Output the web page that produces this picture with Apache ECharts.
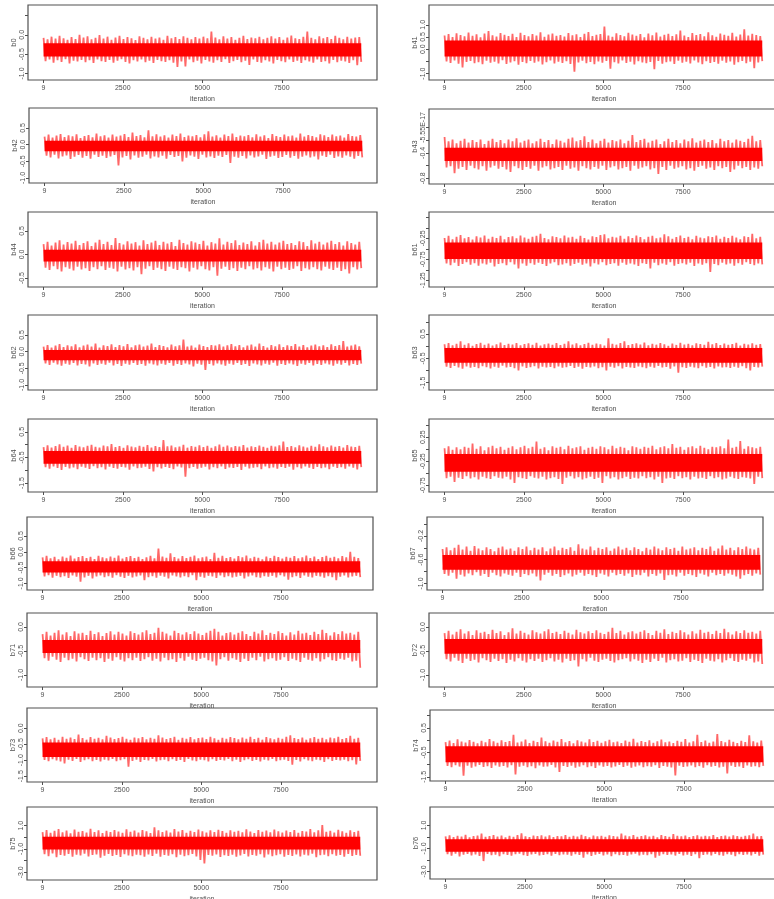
<!DOCTYPE html>
<html>
<head>
<meta charset="utf-8">
<script src="https://cdn.jsdelivr.net/npm/echarts@6/dist/echarts.min.js"></script>
<style>
  html, body { margin: 0; padding: 0; background: #ffffff; }
  #chart { width: 774px; height: 899px; }
</style>
</head>
<body>
<div id="chart"></div>
<script>
// MCMC trace plots: each panel shows the sampled chain of one coefficient.
// Each chain is summarised by the highest and lowest draw inside successive
// blocks of iterations (upper / lower), plus the dense central band (core).

const firstIteration = 9;
const lastIteration = 10000;
const xTickValues = [9, 2500, 5000, 7500];

// panel order: row by row, left column then right column
const panelNames = ['b0','b41','b42','b43','b44','b61','b62','b63','b64','b65','b66','b67','b71','b72','b73','b74','b75','b76'];

const yLimits = [
  [-1.17, 0.77], [-1.26, 1.81],
  [-1.15, 1.10], [-0.89, 0.29],
  [-0.69, 0.90], [-1.41, 0.38],
  [-1.15, 1.10], [-1.80, 1.28],
  [-1.85, 1.00], [-0.89, 0.63],
  [-1.21, 1.10], [-1.11, 0.12],
  [-1.25, 0.29], [-1.25, 0.29],
  [-1.68, 0.63], [-1.67, 1.23],
  [-3.66, 2.60], [-3.66, 2.60]
];

const yTicks = [
  [-1, -0.5, 0, 0.5], [-1, -0.5, 0, 0.5, 1],
  [-1, -0.5, 0, 0.5], [-0.8, -0.6, -0.4, -0.2, 0],
  [-0.5, 0, 0.5], [-1.25, -1, -0.75, -0.5, -0.25, 0, 0.25],
  [-1, -0.5, 0, 0.5], [-1.5, -1, -0.5, 0, 0.5, 1],
  [-1.5, -1, -0.5, 0, 0.5], [-0.75, -0.5, -0.25, 0, 0.25, 0.5],
  [-1, -0.5, 0, 0.5], [-1, -0.8, -0.6, -0.4, -0.2, 0],
  [-1, -0.5, 0], [-1, -0.5, 0],
  [-1.5, -1, -0.5, 0], [-1.5, -1, -0.5, 0, 0.5, 1],
  [-3, -2, -1, 0, 1], [-3, -2, -1, 0, 1]
];

const yTickLabels = [
  [-1, -0.5, 0], [-1, 0, 0.5, 1],
  [-1, -0.5, 0, 0.5], [-0.8, -0.4, 0],
  [-0.5, 0, 0.5], [-1.25, -0.75, -0.25],
  [-1, -0.5, 0, 0.5], [-1.5, -0.5, 0.5],
  [-1.5, -0.5, 0.5], [-0.75, -0.25, 0.25],
  [-1, -0.5, 0, 0.5], [-1, -0.6, -0.2],
  [-1, -0.5, 0], [-1, -0.5, 0],
  [-1.5, -1, -0.5, 0], [-1.5, -0.5, 0.5],
  [-3, -1, 1], [-3, -1, 1]
];

const labelDecimals = [1,1,1,1,1,2,1,1,1,2,1,1,1,1,1,1,1,1];
const zeroLabelText = { b43: '-5.55E-17' };

// central band that the chain fills solidly
const coreBands = [
  [-0.56, -0.22], [-0.30, 0.36],
  [-0.20, 0.12], [-0.53, -0.32],
  [-0.15, 0.10], [-0.74, -0.35],
  [-0.26, 0.05], [-0.68, -0.08],
  [-0.75, -0.25], [-0.47, -0.10],
  [-0.66, -0.30], [-0.77, -0.52],
  [-0.54, -0.27], [-0.56, -0.25],
  [-0.90, -0.45], [-0.90, -0.25],
  [-1.05, 0.05], [-1.28, -0.20]
];

// block maxima / minima of each chain (80 blocks of iterations)
const b0Upper = [-0.08,-0.12,-0.05,-0.10,-0.03,-0.09,-0.13,-0.06,-0.11,0.00,-0.07,-0.04,-0.12,-0.08,-0.01,-0.10,-0.05,-0.13,-0.07,-0.03,-0.11,-0.06,-0.09,-0.14,-0.04,-0.08,-0.12,-0.05,-0.10,-0.07,-0.13,-0.03,-0.09,-0.06,-0.11,-0.04,-0.08,-0.12,-0.06,-0.10,-0.05,-0.09,0.08,-0.07,-0.12,-0.04,-0.10,-0.06,-0.13,-0.08,-0.03,-0.11,-0.07,-0.09,-0.05,-0.12,-0.08,-0.04,-0.10,-0.06,-0.13,-0.07,-0.02,-0.09,-0.11,-0.05,0.08,-0.08,-0.12,-0.04,-0.09,-0.06,-0.11,-0.03,-0.08,-0.12,-0.05,-0.10,-0.07,-0.06];
const b0Lower = [-0.68,-0.64,-0.72,-0.66,-0.70,-0.63,-0.74,-0.67,-0.69,-0.65,-0.71,-0.66,-0.73,-0.64,-0.68,-0.70,-0.65,-0.72,-0.67,-0.63,-0.70,-0.74,-0.66,-0.69,-0.64,-0.71,-0.67,-0.73,-0.65,-0.68,-0.70,-0.66,-0.72,-0.83,-0.69,-0.82,-0.64,-0.71,-0.67,-0.74,-0.65,-0.69,-0.72,-0.66,-0.70,-0.63,-0.73,-0.68,-0.65,-0.71,-0.67,-0.78,-0.64,-0.70,-0.72,-0.66,-0.69,-0.74,-0.65,-0.68,-0.71,-0.64,-0.70,-0.67,-0.73,-0.66,-0.69,-0.72,-0.64,-0.70,-0.68,-0.74,-0.65,-0.71,-0.67,-0.69,-0.73,-0.66,-0.79,-0.70];

const b41Upper = [0.56,0.62,0.50,0.65,0.58,0.53,0.68,0.55,0.61,0.49,0.64,0.74,0.57,0.52,0.66,0.59,0.54,0.63,0.50,0.67,0.58,0.53,0.62,0.56,0.69,0.51,0.60,0.64,0.55,0.58,0.52,0.66,0.57,0.61,0.50,0.63,0.70,0.54,0.59,0.62,0.93,0.56,0.51,0.65,0.58,0.53,0.67,0.60,0.55,0.62,0.49,0.64,0.57,0.68,0.52,0.59,0.63,0.54,0.61,0.76,0.56,0.50,0.66,0.58,0.62,0.53,0.69,0.57,0.51,0.64,0.59,0.55,0.67,0.52,0.60,0.82,0.56,0.63,0.58,0.54];
const b41Lower = [-0.50,-0.56,-0.46,-0.59,-0.75,-0.52,-0.48,-0.57,-0.53,-0.61,-0.47,-0.55,-0.51,-0.58,-0.45,-0.60,-0.54,-0.49,-0.63,-0.52,-0.57,-0.48,-0.55,-0.50,-0.62,-0.53,-0.46,-0.58,-0.51,-0.56,-0.49,-0.60,-0.92,-0.54,-0.47,-0.57,-0.52,-0.61,-0.50,-0.55,-0.48,-0.80,-0.53,-0.58,-0.46,-0.56,-0.51,-0.62,-0.49,-0.54,-0.57,-0.52,-0.82,-0.48,-0.59,-0.53,-0.50,-0.60,-0.47,-0.55,-0.51,-0.58,-0.46,-0.54,-0.61,-0.49,-0.56,-0.52,-0.59,-0.47,-0.55,-0.50,-0.63,-0.53,-0.48,-0.57,-0.51,-0.78,-0.54,-0.49];

const b42Upper = [0.24,0.30,0.21,0.27,0.32,0.23,0.28,0.25,0.31,0.20,0.26,0.29,0.22,0.33,0.25,0.28,0.21,0.30,0.24,0.27,0.32,0.23,0.36,0.26,0.29,0.22,0.43,0.25,0.31,0.24,0.28,0.21,0.30,0.26,0.33,0.23,0.27,0.25,0.29,0.22,0.31,0.40,0.24,0.28,0.21,0.30,0.26,0.33,0.23,0.27,0.25,0.29,0.22,0.31,0.24,0.28,0.20,0.32,0.26,0.23,0.30,0.25,0.27,0.21,0.33,0.24,0.29,0.26,0.22,0.31,0.28,0.23,0.30,0.25,0.27,0.21,0.32,0.26,0.24,0.29];
const b42Lower = [-0.33,-0.38,-0.30,-0.41,-0.35,-0.32,-0.43,-0.36,-0.31,-0.39,-0.34,-0.42,-0.30,-0.37,-0.33,-0.40,-0.35,-0.31,-0.62,-0.38,-0.34,-0.44,-0.32,-0.39,-0.36,-0.30,-0.41,-0.35,-0.38,-0.33,-0.42,-0.31,-0.37,-0.34,-0.50,-0.39,-0.32,-0.36,-0.43,-0.30,-0.38,-0.35,-0.40,-0.33,-0.37,-0.31,-0.55,-0.36,-0.39,-0.34,-0.41,-0.32,-0.38,-0.35,-0.30,-0.43,-0.36,-0.33,-0.40,-0.37,-0.31,-0.39,-0.34,-0.42,-0.36,-0.32,-0.38,-0.35,-0.44,-0.33,-0.37,-0.30,-0.40,-0.35,-0.39,-0.32,-0.36,-0.42,-0.34,-0.38];

const b43Upper = [-0.15,-0.22,-0.19,-0.25,-0.21,-0.18,-0.24,-0.20,-0.23,-0.19,-0.26,-0.21,-0.18,-0.23,-0.20,-0.25,-0.19,-0.22,-0.17,-0.24,-0.21,-0.19,-0.25,-0.22,-0.18,-0.23,-0.20,-0.26,-0.19,-0.21,-0.24,-0.18,-0.16,-0.22,-0.20,-0.14,-0.23,-0.19,-0.25,-0.21,-0.18,-0.24,-0.20,-0.22,-0.19,-0.25,-0.21,-0.12,-0.23,-0.20,-0.18,-0.24,-0.21,-0.19,-0.26,-0.22,-0.18,-0.23,-0.20,-0.25,-0.19,-0.22,-0.17,-0.24,-0.21,-0.19,-0.23,-0.20,-0.25,-0.18,-0.22,-0.20,-0.24,-0.19,-0.21,-0.23,-0.18,-0.13,-0.22,-0.20];
const b43Lower = [-0.63,-0.61,-0.72,-0.65,-0.62,-0.67,-0.60,-0.64,-0.66,-0.61,-0.68,-0.63,-0.60,-0.65,-0.62,-0.66,-0.70,-0.61,-0.64,-0.67,-0.62,-0.65,-0.60,-0.68,-0.63,-0.61,-0.66,-0.64,-0.62,-0.67,-0.60,-0.65,-0.63,-0.68,-0.61,-0.64,-0.66,-0.62,-0.65,-0.60,-0.67,-0.63,-0.61,-0.66,-0.64,-0.62,-0.68,-0.60,-0.65,-0.63,-0.61,-0.66,-0.64,-0.73,-0.62,-0.67,-0.60,-0.65,-0.63,-0.61,-0.66,-0.64,-0.68,-0.62,-0.60,-0.65,-0.63,-0.67,-0.61,-0.64,-0.62,-0.70,-0.66,-0.60,-0.64,-0.62,-0.67,-0.63,-0.65,-0.61];

const b44Upper = [0.22,0.27,0.19,0.25,0.30,0.21,0.26,0.23,0.29,0.20,0.24,0.28,0.18,0.25,0.31,0.22,0.27,0.20,0.35,0.24,0.21,0.28,0.23,0.26,0.19,0.30,0.22,0.25,0.29,0.20,0.27,0.23,0.26,0.18,0.31,0.24,0.21,0.28,0.25,0.22,0.29,0.19,0.26,0.23,0.34,0.21,0.27,0.24,0.30,0.20,0.25,0.22,0.28,0.19,0.26,0.31,0.23,0.27,0.21,0.25,0.29,0.22,0.24,0.20,0.28,0.26,0.18,0.30,0.23,0.27,0.21,0.25,0.29,0.22,0.26,0.19,0.28,0.24,0.21,0.27];
const b44Lower = [-0.28,-0.33,-0.25,-0.31,-0.36,-0.27,-0.30,-0.34,-0.26,-0.32,-0.29,-0.35,-0.27,-0.31,-0.25,-0.33,-0.28,-0.30,-0.36,-0.26,-0.32,-0.29,-0.34,-0.27,-0.42,-0.30,-0.25,-0.33,-0.28,-0.31,-0.35,-0.26,-0.30,-0.33,-0.27,-0.29,-0.36,-0.28,-0.32,-0.25,-0.31,-0.34,-0.27,-0.45,-0.30,-0.26,-0.33,-0.29,-0.35,-0.28,-0.31,-0.25,-0.32,-0.29,-0.34,-0.27,-0.30,-0.36,-0.26,-0.31,-0.28,-0.33,-0.30,-0.25,-0.35,-0.29,-0.32,-0.27,-0.31,-0.34,-0.26,-0.30,-0.33,-0.28,-0.35,-0.31,-0.40,-0.27,-0.32,-0.29];

const b61Upper = [-0.24,-0.19,-0.27,-0.21,-0.17,-0.25,-0.22,-0.28,-0.20,-0.23,-0.18,-0.26,-0.21,-0.24,-0.19,-0.27,-0.22,-0.20,-0.25,-0.18,-0.23,-0.26,-0.21,-0.19,-0.14,-0.24,-0.27,-0.20,-0.22,-0.25,-0.18,-0.23,-0.21,-0.26,-0.19,-0.24,-0.28,-0.20,-0.22,-0.17,-0.15,-0.25,-0.21,-0.23,-0.19,-0.26,-0.20,-0.24,-0.18,-0.22,-0.27,-0.21,-0.19,-0.25,-0.23,-0.15,-0.20,-0.26,-0.22,-0.18,-0.24,-0.21,-0.27,-0.19,-0.23,-0.25,-0.20,-0.22,-0.18,-0.26,-0.21,-0.24,-0.19,-0.23,-0.27,-0.20,-0.22,-0.14,-0.25,-0.21];
const b61Lower = [-0.85,-0.89,-0.83,-0.91,-0.86,-0.82,-0.88,-0.84,-0.90,-0.85,-0.87,-0.83,-0.92,-0.86,-0.84,-0.89,-0.82,-0.87,-0.97,-0.85,-0.90,-0.84,-0.88,-0.83,-0.86,-0.91,-0.85,-0.82,-0.89,-0.87,-0.84,-0.90,-0.86,-0.83,-0.88,-0.85,-0.92,-0.84,-0.87,-0.82,-0.89,-0.86,-0.84,-0.90,-0.83,-0.88,-0.85,-0.87,-0.91,-0.84,-0.86,-0.97,-0.83,-0.89,-0.85,-0.88,-0.82,-0.90,-0.86,-0.84,-0.87,-0.83,-0.91,-0.85,-0.88,-0.84,-1.05,-0.86,-0.89,-0.83,-0.87,-0.85,-0.90,-0.84,-0.88,-0.82,-0.86,-0.89,-0.85,-0.87];

const b62Upper = [0.15,0.20,0.12,0.18,0.23,0.14,0.19,0.16,0.22,0.13,0.18,0.21,0.15,0.24,0.12,0.19,0.17,0.22,0.14,0.20,0.16,0.23,0.13,0.19,0.21,0.15,0.18,0.24,0.14,0.20,0.17,0.13,0.21,0.16,0.19,0.36,0.15,0.18,0.12,0.21,0.17,0.14,0.20,0.18,0.22,0.15,0.19,0.23,0.16,0.20,0.13,0.18,0.21,0.15,0.24,0.17,0.12,0.20,0.16,0.22,0.14,0.19,0.17,0.23,0.15,0.20,0.13,0.18,0.21,0.16,0.19,0.14,0.22,0.17,0.20,0.32,0.15,0.18,0.21,0.16];
const b62Lower = [-0.35,-0.40,-0.33,-0.38,-0.42,-0.36,-0.39,-0.34,-0.41,-0.37,-0.38,-0.44,-0.35,-0.40,-0.36,-0.39,-0.33,-0.41,-0.37,-0.43,-0.36,-0.39,-0.34,-0.40,-0.37,-0.42,-0.35,-0.38,-0.41,-0.36,-0.39,-0.34,-0.42,-0.37,-0.40,-0.35,-0.38,-0.44,-0.36,-0.39,-0.55,-0.37,-0.41,-0.35,-0.38,-0.42,-0.36,-0.39,-0.34,-0.40,-0.37,-0.43,-0.35,-0.38,-0.41,-0.36,-0.39,-0.33,-0.42,-0.37,-0.40,-0.35,-0.38,-0.43,-0.36,-0.39,-0.34,-0.41,-0.37,-0.40,-0.35,-0.38,-0.42,-0.36,-0.39,-0.34,-0.41,-0.37,-0.40,-0.36];

const b63Upper = [0.08,0.13,0.03,0.10,0.20,0.06,0.12,0.01,0.09,0.14,0.05,0.11,0.02,0.08,0.15,0.04,0.10,0.07,0.13,0.03,0.09,0.12,0.05,0.14,0.02,0.08,0.11,0.06,0.13,0.04,0.10,0.20,0.07,0.12,0.03,0.09,0.14,0.05,0.11,0.08,0.02,0.32,0.10,0.06,0.13,0.20,0.04,0.09,0.12,0.07,0.15,0.03,0.10,0.06,0.13,0.08,0.01,0.11,0.05,0.14,0.07,0.10,0.03,0.12,0.09,0.05,0.18,0.08,0.13,0.04,0.11,0.06,0.09,0.14,0.02,0.10,0.07,0.12,0.05,0.09];
const b63Lower = [-0.84,-0.89,-0.81,-0.87,-0.92,-0.83,-0.88,-0.85,-0.90,-0.82,-0.86,-0.91,-0.84,-0.88,-0.80,-0.87,-0.85,-0.90,-1.00,-0.83,-0.89,-0.86,-0.82,-0.91,-0.84,-0.87,-0.85,-0.90,-0.83,-0.88,-0.86,-0.81,-0.89,-0.84,-0.92,-0.85,-0.87,-0.83,-0.90,-0.86,-1.00,-0.84,-0.88,-0.82,-0.91,-0.85,-0.87,-0.89,-0.83,-0.86,-0.90,-0.84,-0.88,-0.81,-0.87,-0.85,-0.92,-0.83,-1.09,-0.86,-0.89,-0.84,-0.87,-0.90,-0.82,-0.88,-0.85,-0.91,-0.83,-0.87,-0.86,-0.89,-0.84,-0.88,-0.82,-0.90,-1.00,-0.85,-0.87,-0.84];

const b64Upper = [-0.10,-0.03,-0.12,-0.06,0.01,-0.09,-0.04,-0.13,-0.02,-0.08,-0.11,-0.05,-0.01,-0.09,-0.12,-0.04,-0.07,0.02,-0.10,-0.06,-0.13,-0.03,-0.08,-0.11,-0.05,-0.09,-0.02,-0.12,-0.06,-0.10,0.18,-0.07,-0.04,-0.11,-0.08,-0.01,-0.12,-0.06,-0.09,-0.03,-0.10,-0.05,-0.13,-0.07,0.00,-0.09,-0.04,-0.11,-0.06,-0.08,-0.02,-0.12,-0.07,-0.10,-0.04,-0.09,-0.13,-0.05,-0.08,-0.03,0.12,-0.10,-0.06,-0.11,-0.03,-0.08,-0.12,-0.05,-0.09,0.01,-0.07,-0.11,-0.04,-0.09,-0.06,-0.12,-0.02,-0.08,-0.10,-0.05];
const b64Lower = [-0.88,-0.94,-0.85,-0.91,-0.99,-0.87,-0.93,-0.89,-0.96,-0.86,-0.90,-0.95,-0.84,-0.92,-0.88,-0.97,-0.86,-0.91,-0.94,-0.87,-0.89,-0.98,-0.85,-0.92,-0.90,-0.86,-0.95,-1.05,-0.88,-0.93,-0.87,-0.91,-0.96,-0.85,-0.89,-1.25,-0.92,-0.87,-0.94,-0.90,-0.86,-0.97,-0.88,-0.92,-0.85,-0.95,-0.89,-0.91,-0.87,-0.99,-0.86,-0.93,-0.90,-0.88,-0.96,-0.85,-0.92,-0.89,-0.94,-0.87,-0.91,-0.86,-0.98,-0.88,-0.93,-0.85,-0.90,-0.95,-0.87,-0.92,-0.89,-0.96,-0.86,-0.91,-0.88,-0.94,-0.85,-0.90,-0.97,-0.88];

const b65Upper = [0.02,0.06,-0.01,0.04,0.00,0.05,0.03,0.12,0.01,0.06,-0.02,0.04,0.07,0.02,0.05,-0.01,0.03,0.06,0.00,0.04,0.07,0.02,0.05,0.16,0.01,0.04,-0.02,0.06,0.03,0.05,0.00,0.07,0.02,0.04,0.06,-0.01,0.03,0.05,0.01,0.06,0.04,0.00,0.07,0.02,0.05,0.03,-0.02,0.06,0.04,0.01,0.05,0.03,0.07,0.00,0.04,0.06,0.02,0.11,0.03,0.05,-0.01,0.04,0.06,0.02,0.07,0.03,0.00,0.05,0.04,0.06,0.02,0.20,0.03,0.05,0.17,0.01,0.06,0.04,0.02,0.05];
const b65Lower = [-0.60,-0.57,-0.68,-0.59,-0.62,-0.56,-0.61,-0.58,-0.63,-0.57,-0.60,-0.62,-0.56,-0.59,-0.61,-0.57,-0.63,-0.70,-0.58,-0.60,-0.62,-0.56,-0.59,-0.61,-0.57,-0.63,-0.60,-0.58,-0.62,-0.72,-0.59,-0.56,-0.61,-0.58,-0.63,-0.60,-0.57,-0.62,-0.59,-0.70,-0.56,-0.61,-0.58,-0.63,-0.60,-0.57,-0.62,-0.59,-0.61,-0.56,-0.60,-0.58,-0.63,-0.57,-0.70,-0.61,-0.59,-0.62,-0.56,-0.60,-0.58,-0.63,-0.57,-0.61,-0.59,-0.62,-0.56,-0.60,-0.58,-0.63,-0.61,-0.57,-0.60,-0.62,-0.58,-0.59,-0.61,-0.72,-0.57,-0.60];

const b66Upper = [-0.18,-0.13,-0.21,-0.16,-0.24,-0.15,-0.19,-0.12,-0.22,-0.17,-0.14,-0.20,-0.16,-0.23,-0.13,-0.18,-0.21,-0.15,-0.19,-0.12,-0.22,-0.17,-0.14,-0.20,-0.16,-0.23,-0.18,-0.13,-0.21,0.10,-0.15,-0.19,-0.05,-0.17,-0.22,-0.14,-0.20,-0.16,-0.12,-0.21,-0.18,-0.15,-0.23,-0.03,-0.19,-0.13,-0.20,-0.17,-0.22,-0.14,-0.18,-0.12,-0.21,-0.16,-0.19,-0.24,-0.15,-0.20,-0.13,-0.17,-0.22,-0.16,-0.19,-0.14,-0.21,-0.18,-0.12,-0.20,-0.15,-0.23,-0.17,-0.13,-0.19,-0.16,-0.21,-0.14,-0.18,0.00,-0.16,-0.20];
const b66Lower = [-0.78,-0.74,-0.82,-0.76,-0.80,-0.77,-0.83,-0.75,-0.79,-0.95,-0.81,-0.76,-0.84,-0.78,-0.75,-0.80,-0.77,-0.82,-0.74,-0.79,-0.83,-0.76,-0.81,-0.78,-0.75,-0.90,-0.80,-0.77,-0.82,-0.76,-0.79,-0.84,-0.75,-0.78,-0.81,-0.77,-0.80,-0.74,-0.90,-0.79,-0.82,-0.76,-0.78,-0.83,-0.75,-0.80,-0.77,-0.81,-0.79,-0.76,-0.84,-0.78,-0.75,-0.80,-0.82,-0.77,-0.79,-0.76,-0.81,-0.74,-0.78,-0.88,-0.80,-0.77,-0.83,-0.75,-0.79,-0.81,-0.76,-0.78,-0.82,-0.77,-0.80,-0.90,-0.79,-0.75,-0.81,-0.78,-0.76,-0.80];

const b67Upper = [-0.42,-0.39,-0.44,-0.40,-0.35,-0.43,-0.38,-0.45,-0.37,-0.41,-0.44,-0.39,-0.42,-0.46,-0.40,-0.38,-0.43,-0.41,-0.45,-0.39,-0.42,-0.38,-0.44,-0.40,-0.43,-0.39,-0.46,-0.41,-0.38,-0.44,-0.40,-0.42,-0.39,-0.45,-0.34,-0.41,-0.43,-0.38,-0.44,-0.40,-0.42,-0.39,-0.45,-0.41,-0.38,-0.43,-0.40,-0.44,-0.39,-0.42,-0.46,-0.40,-0.43,-0.38,-0.41,-0.44,-0.39,-0.42,-0.40,-0.45,-0.38,-0.43,-0.41,-0.39,-0.44,-0.40,-0.42,-0.38,-0.45,-0.41,-0.36,-0.43,-0.40,-0.44,-0.39,-0.42,-0.38,-0.41,-0.43,-0.40];
const b67Lower = [-0.84,-0.87,-0.82,-0.92,-0.85,-0.88,-0.83,-0.86,-0.81,-0.87,-0.84,-0.89,-0.82,-0.86,-0.88,-0.83,-0.85,-0.87,-0.82,-0.89,-0.84,-0.86,-0.83,-0.88,-0.95,-0.85,-0.82,-0.87,-0.84,-0.89,-0.86,-0.83,-0.88,-0.85,-0.82,-0.87,-0.84,-0.86,-0.89,-0.83,-0.85,-0.88,-0.82,-0.86,-0.84,-0.87,-0.83,-0.89,-0.85,-0.86,-0.82,-0.88,-0.84,-0.87,-0.83,-0.94,-0.86,-0.85,-0.88,-0.82,-0.87,-0.84,-0.86,-0.89,-0.83,-0.85,-0.88,-0.82,-0.86,-0.84,-0.87,-0.83,-0.85,-0.88,-0.92,-0.86,-0.84,-0.87,-0.83,-0.85];

const b71Upper = [-0.15,-0.10,-0.18,-0.12,-0.07,-0.16,-0.11,-0.19,-0.09,-0.14,-0.12,-0.17,-0.08,-0.15,-0.11,-0.19,-0.13,-0.09,-0.16,-0.10,-0.14,-0.18,-0.09,-0.13,-0.16,-0.11,-0.07,-0.15,-0.12,-0.02,-0.10,-0.14,-0.18,-0.08,-0.13,-0.16,-0.11,-0.15,-0.09,-0.14,-0.17,-0.12,-0.08,-0.04,-0.10,-0.18,-0.13,-0.11,-0.16,-0.12,-0.09,-0.15,-0.19,-0.10,-0.14,-0.07,-0.17,-0.12,-0.15,-0.09,-0.13,-0.18,-0.11,-0.16,-0.08,-0.14,-0.12,-0.17,-0.10,-0.15,-0.06,-0.13,-0.18,-0.11,-0.15,-0.09,-0.14,-0.12,-0.16,-0.10];
const b71Lower = [-0.65,-0.70,-0.62,-0.68,-0.73,-0.64,-0.69,-0.66,-0.72,-0.63,-0.67,-0.71,-0.64,-0.69,-0.65,-0.73,-0.66,-0.70,-0.63,-0.68,-0.72,-0.65,-0.69,-0.64,-0.71,-0.67,-0.63,-0.70,-0.66,-0.72,-0.64,-0.69,-0.67,-0.73,-0.65,-0.70,-0.62,-0.68,-0.71,-0.66,-0.64,-0.69,-0.72,-0.80,-0.67,-0.63,-0.70,-0.65,-0.68,-0.73,-0.66,-0.71,-0.64,-0.69,-0.62,-0.72,-0.67,-0.65,-0.70,-0.68,-0.63,-0.71,-0.66,-0.69,-0.73,-0.64,-0.68,-0.70,-0.65,-0.72,-0.67,-0.63,-0.69,-0.71,-0.66,-0.68,-0.64,-0.72,-0.70,-0.85];

const b72Upper = [-0.13,-0.08,-0.16,-0.10,-0.05,-0.14,-0.09,-0.17,-0.07,-0.12,-0.10,-0.15,-0.06,-0.13,-0.09,-0.17,-0.11,-0.03,-0.14,-0.08,-0.12,-0.16,-0.07,-0.11,-0.14,-0.09,-0.05,-0.13,-0.10,-0.15,-0.08,-0.12,-0.16,-0.06,-0.11,-0.14,-0.09,-0.13,-0.07,-0.12,-0.15,-0.10,-0.02,-0.13,-0.08,-0.16,-0.11,-0.09,-0.14,-0.10,-0.07,-0.13,-0.17,-0.08,-0.12,-0.05,-0.15,-0.10,-0.13,-0.07,-0.11,-0.16,-0.09,-0.14,-0.06,-0.12,-0.10,-0.15,-0.08,-0.13,-0.04,-0.11,-0.16,-0.09,-0.13,-0.07,-0.12,-0.10,-0.14,-0.08];
const b72Lower = [-0.67,-0.72,-0.64,-0.70,-0.75,-0.66,-0.71,-0.68,-0.74,-0.65,-0.69,-0.73,-0.66,-0.71,-0.67,-0.75,-0.68,-0.72,-0.65,-0.70,-0.74,-0.67,-0.71,-0.66,-0.73,-0.69,-0.65,-0.72,-0.68,-0.74,-0.66,-0.71,-0.69,-0.82,-0.67,-0.72,-0.64,-0.70,-0.73,-0.68,-0.66,-0.71,-0.74,-0.69,-0.67,-0.65,-0.72,-0.67,-0.70,-0.75,-0.68,-0.73,-0.66,-0.71,-0.64,-0.74,-0.69,-0.67,-0.72,-0.70,-0.65,-0.73,-0.68,-0.71,-0.75,-0.66,-0.70,-0.72,-0.67,-0.74,-0.69,-0.65,-0.71,-0.73,-0.68,-0.70,-0.66,-0.74,-0.72,-0.77];

const b73Upper = [-0.32,-0.28,-0.35,-0.30,-0.36,-0.27,-0.33,-0.29,-0.34,-0.20,-0.31,-0.36,-0.28,-0.33,-0.30,-0.35,-0.24,-0.29,-0.34,-0.31,-0.27,-0.33,-0.36,-0.29,-0.32,-0.28,-0.35,-0.30,-0.33,-0.22,-0.29,-0.34,-0.31,-0.27,-0.36,-0.30,-0.33,-0.28,-0.35,-0.31,-0.29,-0.34,-0.27,-0.32,-0.36,-0.30,-0.33,-0.28,-0.31,-0.35,-0.29,-0.33,-0.27,-0.34,-0.30,-0.36,-0.28,-0.32,-0.35,-0.30,-0.33,-0.27,-0.22,-0.31,-0.34,-0.29,-0.36,-0.32,-0.28,-0.33,-0.30,-0.35,-0.29,-0.32,-0.27,-0.34,-0.31,-0.24,-0.33,-0.30];
const b73Lower = [-0.99,-1.03,-0.97,-1.01,-1.04,-1.10,-0.98,-1.02,-0.96,-1.05,-1.00,-0.97,-1.03,-0.99,-1.04,-0.98,-1.01,-0.96,-1.03,-1.00,-0.97,-1.20,-1.02,-0.98,-1.05,-0.99,-1.01,-0.96,-1.04,-1.00,-0.98,-1.03,-0.97,-1.02,-0.99,-1.05,-0.96,-1.01,-1.03,-0.98,-1.00,-1.04,-0.97,-1.02,-0.99,-1.01,-0.96,-1.03,-0.98,-1.05,-1.00,-0.97,-1.02,-0.99,-1.04,-0.98,-1.01,-0.96,-1.03,-1.00,-0.98,-1.02,-1.14,-0.99,-1.04,-0.97,-1.01,-1.03,-0.98,-1.00,-1.05,-0.97,-1.02,-0.99,-1.01,-0.98,-1.03,-1.00,-1.13,-1.02];

const b74Upper = [-0.08,-0.02,-0.12,0.03,-0.06,-0.10,0.00,-0.07,-0.13,-0.03,-0.09,0.04,-0.05,-0.11,-0.01,-0.08,-0.04,0.22,-0.10,-0.06,0.02,-0.12,-0.03,-0.08,0.10,-0.05,-0.11,-0.02,-0.07,0.04,-0.09,-0.04,-0.13,-0.01,-0.06,-0.10,0.03,-0.08,-0.03,-0.11,-0.05,0.01,-0.09,-0.06,-0.12,-0.02,-0.07,0.05,-0.10,-0.04,-0.08,-0.01,-0.11,-0.05,0.02,-0.09,-0.06,-0.12,-0.03,-0.07,0.04,-0.10,-0.05,0.22,-0.08,-0.02,-0.11,-0.06,0.25,-0.04,-0.09,0.01,-0.07,-0.12,-0.03,-0.08,0.20,-0.05,-0.10,-0.02];
const b74Lower = [-1.05,-1.11,-1.02,-1.08,-1.45,-1.04,-1.13,-1.07,-1.01,-1.10,-1.06,-1.14,-1.03,-1.09,-1.05,-1.12,-1.02,-1.40,-1.08,-1.04,-1.11,-1.06,-1.15,-1.03,-1.09,-1.07,-1.01,-1.12,-1.30,-1.05,-1.10,-1.04,-1.13,-1.08,-1.02,-1.11,-1.06,-1.14,-1.03,-1.09,-1.05,-1.12,-1.07,-1.01,-1.10,-1.04,-1.13,-1.08,-1.03,-1.11,-1.06,-1.09,-1.02,-1.14,-1.05,-1.08,-1.12,-1.44,-1.04,-1.10,-1.07,-1.03,-1.11,-1.06,-1.13,-1.02,-1.09,-1.05,-1.12,-1.08,-1.36,-1.04,-1.10,-1.07,-1.14,-1.03,-1.09,-1.06,-1.11,-1.05];

const b75Upper = [0.45,0.62,0.38,0.55,0.70,0.42,0.58,0.35,0.66,0.48,0.53,0.40,0.72,0.46,0.60,0.37,0.56,0.44,0.63,0.50,0.39,0.68,0.47,0.58,0.41,0.63,0.52,0.36,0.85,0.60,0.45,0.57,0.40,0.71,0.49,0.62,0.38,0.55,0.44,0.67,0.52,0.41,0.59,0.46,0.65,0.53,0.39,0.61,0.48,0.56,0.43,0.69,0.50,0.37,0.62,0.47,0.58,0.42,0.66,0.51,0.40,0.57,0.45,0.63,0.38,0.54,0.49,0.70,0.43,0.60,1.05,0.47,0.56,0.41,0.64,0.52,0.39,0.59,0.46,0.55];
const b75Lower = [-1.45,-1.62,-1.38,-1.70,-1.50,-1.58,-1.42,-1.66,-1.48,-1.55,-1.40,-1.63,-1.52,-1.46,-1.74,-1.57,-1.43,-1.60,-1.50,-1.68,-1.44,-1.56,-1.62,-1.48,-1.53,-1.65,-1.47,-1.59,-1.41,-1.67,-1.52,-1.58,-1.45,-1.71,-1.49,-1.61,-1.54,-1.43,-1.64,-1.95,-2.25,-1.51,-1.57,-1.46,-1.69,-1.53,-1.60,-1.48,-1.66,-1.55,-1.42,-1.63,-1.50,-1.58,-1.45,-1.72,-1.47,-1.61,-1.53,-1.44,-1.67,-1.52,-1.59,-1.46,-1.64,-1.49,-1.56,-1.41,-1.70,-1.54,-1.48,-1.62,-1.45,-1.57,-1.51,-1.65,-1.43,-1.60,-1.52,-1.58];

const b76Upper = [0.05,0.14,-0.02,0.10,0.02,0.17,-0.04,0.08,0.12,0.28,0.00,0.06,0.15,0.03,0.11,-0.03,0.09,0.01,0.16,0.30,0.04,-0.01,0.11,0.07,0.14,0.02,0.13,-0.02,0.08,0.05,0.15,0.00,0.10,0.03,0.17,0.06,-0.04,0.12,0.04,0.09,0.01,0.14,0.07,0.02,0.28,0.11,0.05,0.16,0.00,0.08,0.13,0.03,0.10,-0.03,0.15,0.06,0.01,0.25,0.09,0.04,0.12,-0.01,0.07,0.14,0.02,0.10,0.05,0.16,-0.02,0.08,0.11,0.03,0.14,0.06,0.00,0.09,0.13,0.28,0.04,0.07];
const b76Lower = [-1.50,-1.62,-1.45,-1.70,-1.55,-1.48,-1.60,-1.52,-1.66,-2.10,-1.47,-1.58,-1.54,-1.68,-1.49,-1.57,-1.63,-1.51,-1.46,-1.59,-1.65,-1.53,-1.48,-1.61,-1.56,-1.50,-1.64,-1.47,-1.58,-1.52,-1.55,-1.62,-1.49,-1.57,-1.80,-1.51,-1.66,-1.54,-1.48,-1.60,-1.53,-1.67,-1.50,-1.59,-1.56,-1.63,-1.52,-1.46,-1.61,-1.55,-1.58,-1.49,-1.80,-1.64,-1.51,-1.57,-1.53,-1.62,-1.48,-1.60,-1.54,-1.66,-1.50,-1.85,-1.56,-1.52,-1.61,-1.47,-1.58,-1.63,-1.51,-1.55,-1.68,-1.49,-1.57,-1.53,-1.60,-1.48,-1.62,-1.54];

const upperByName = {
  b0: b0Upper, b41: b41Upper, b42: b42Upper, b43: b43Upper, b44: b44Upper, b61: b61Upper,
  b62: b62Upper, b63: b63Upper, b64: b64Upper, b65: b65Upper, b66: b66Upper, b67: b67Upper,
  b71: b71Upper, b72: b72Upper, b73: b73Upper, b74: b74Upper, b75: b75Upper, b76: b76Upper
};
const lowerByName = {
  b0: b0Lower, b41: b41Lower, b42: b42Lower, b43: b43Lower, b44: b44Lower, b61: b61Lower,
  b62: b62Lower, b63: b63Lower, b64: b64Lower, b65: b65Lower, b66: b66Lower, b67: b67Lower,
  b71: b71Lower, b72: b72Lower, b73: b73Lower, b74: b74Lower, b75: b75Lower, b76: b76Lower
};

// plot frames [left, top, right, bottom] in pixels
const frames = [
  [28, 5, 377, 80],    [429, 5, 779, 80],
  [29, 108, 377, 183], [429, 109, 779, 184],
  [28, 212, 377, 287], [429, 212, 779, 287],
  [28, 315, 377, 390], [429, 315, 779, 390],
  [28, 419, 377, 492], [429, 419, 779, 492],
  [27, 517, 373, 590], [427, 517, 763, 590],
  [27, 613, 377, 687], [429, 613, 779, 687],
  [27, 708, 377, 782], [430, 710, 779, 781],
  [27, 807, 377, 880], [430, 807, 779, 879]
];
const pxPerIteration = 0.0318;
const xStart = -480;

const FONT = '"Liberation Sans", Arial, sans-serif';
const INK = '#505050';
const TRACE = '#ff0000';
const TRACE_LINE = 'rgba(255, 0, 0, 0.6)';

const grids = [], xAxes = [], yAxes = [], series = [];

panelNames.forEach((name, i) => {
  const [L, T, R, B] = frames[i];
  const W = R - L, H = B - T;
  grids.push({
    left: L, top: T, width: W, height: H,
    show: true, borderColor: INK, borderWidth: 1.2, backgroundColor: 'transparent',
    containLabel: false, outerBoundsMode: 'none'
  });
  xAxes.push({
    type: 'value', gridIndex: i,
    min: xStart, max: xStart + W / pxPerIteration,
    axisLine: { show: false, onZero: false }, splitLine: { show: false },
    axisTick: { show: true, customValues: xTickValues, length: 3, lineStyle: { color: INK, width: 1 } },
    axisLabel: { customValues: xTickValues, fontSize: 7, color: INK, margin: 5, fontFamily: FONT,
      formatter: v => String(Math.round(v)) },
    name: 'iteration', nameLocation: 'middle', nameGap: 16,
    nameTextStyle: { fontSize: 7, color: INK, fontFamily: FONT }
  });
  const dec = labelDecimals[i];
  yAxes.push({
    type: 'value', gridIndex: i,
    min: yLimits[i][0], max: yLimits[i][1],
    axisLine: { show: false, onZero: false }, splitLine: { show: false },
    axisTick: { show: true, customValues: yTicks[i], length: 3, lineStyle: { color: INK, width: 1 } },
    axisLabel: { customValues: yTickLabels[i], rotate: 90, fontSize: 7, color: INK, margin: 2, fontFamily: FONT,
      formatter: v => (zeroLabelText[name] && Math.abs(v) < 1e-9) ? zeroLabelText[name] : (Math.abs(v) < 1e-9 ? 0 : v).toFixed(dec) },
    name: name, nameLocation: 'middle', nameGap: 10,
    nameTextStyle: { fontSize: 7.5, color: INK, fontFamily: FONT }
  });

  const up = upperByName[name], lo = lowerByName[name];
  const n = Math.min(up.length, lo.length);
  const step = (lastIteration - firstIteration) / (2 * n - 1);
  const pts = [];
  for (let k = 0; k < n; k++) {
    pts.push([firstIteration + 2 * k * step, up[k]]);
    pts.push([firstIteration + (2 * k + 1) * step, lo[k]]);
  }
  const core = coreBands[i];
  series.push({
    type: 'line', xAxisIndex: i, yAxisIndex: i, data: pts,
    showSymbol: false, symbol: 'none', silent: true, animation: false,
    lineStyle: { color: TRACE_LINE, width: 1.8 },
    markArea: {
      silent: true, animation: false,
      itemStyle: { color: TRACE, opacity: 1 },
      data: [[{ coord: [firstIteration, core[0]] }, { coord: [lastIteration, core[1]] }]]
    }
  });
});

const chart = echarts.init(document.getElementById('chart'), null, { renderer: 'canvas' });
chart.setOption({
  animation: false,
  backgroundColor: '#ffffff',
  grid: grids, xAxis: xAxes, yAxis: yAxes, series: series
});
</script>
</body>
</html>
